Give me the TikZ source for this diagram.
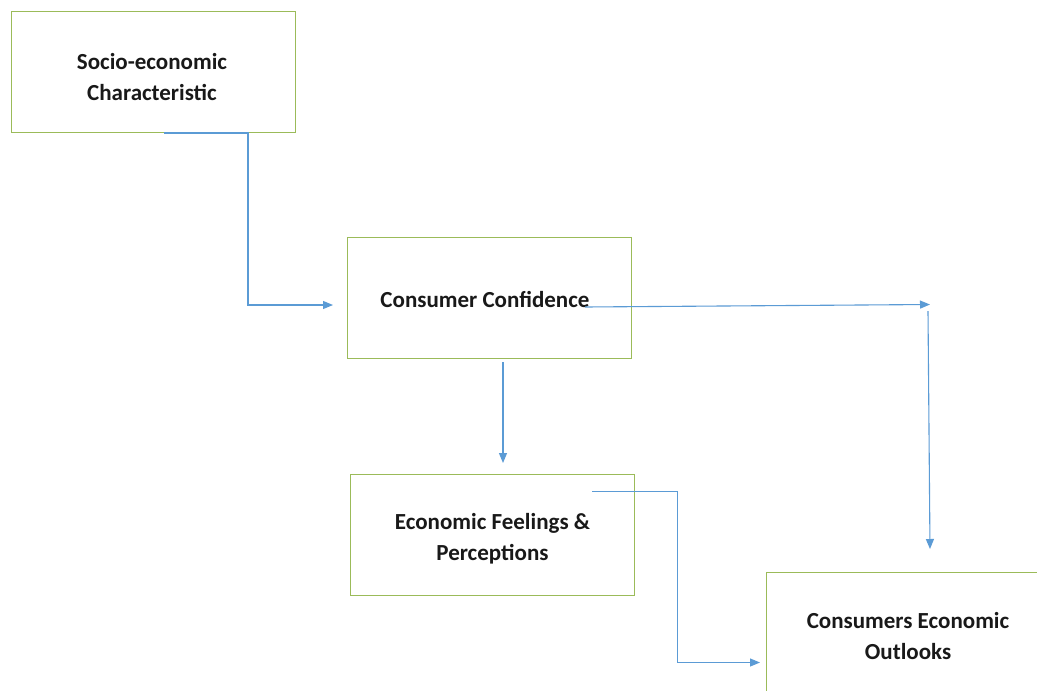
\documentclass[tikz,border=0pt]{standalone}
\usepackage{fontspec}
\setmainfont{Carlito}
\usetikzlibrary{arrows.meta,calc}
\definecolor{boxgreen}{HTML}{9BBB59}
\definecolor{lineblue}{HTML}{5B9BD5}
\tikzset{
  box/.style={draw=boxgreen, line width=0.9pt, minimum width=284pt, minimum height=121pt, inner sep=0pt},
  lbl/.style={inner sep=0pt, align=center, font=\fontsize{23}{31}\selectfont\bfseries, text=black!90},
  conn/.style={draw=lineblue, line width=1.1pt, -{Triangle[length=10pt,width=8pt]}}
}
\begin{document}
\begin{tikzpicture}[x=1pt,y=-1pt]
\clip (0,0) rectangle (1037,691);
\fill[white] (0,0) rectangle (1037,691);
\node[box] (se) at (153,72) {};
\node[box] (cc) at (489,297.5) {};
\node[box] (ef) at (492.5,534.5) {};
\node[box] (ce) at (908,632.5) {};
\node[lbl] (se-t) at ($(se.center)+(-1,5)$) {Socio-economic\\Characteristic};
\node[lbl] (cc-t) at ($(cc.center)+(-4,2)$) {Consumer Confidence};
\node[lbl] (ef-t) at ($(ef.center)+(0,4)$) {Economic Feelings \&\\Perceptions};
\node[lbl] (ce-t) at ($(ce.center)+(0,4)$) {Consumers Economic\\Outlooks};
\coordinate (a1s) at (164,133);
\coordinate (a1t) at (333,305);
\coordinate (a2s) at (585,307);
\coordinate (a2t) at (930,304.5);
\coordinate (a3s) at (928,311);
\coordinate (a3t) at (930,549);
\coordinate (a4s) at (503,362);
\coordinate (a4t) at (503,463);
\coordinate (a5s) at (592,491.5);
\coordinate (a5t) at (760,662.5);
\draw[conn] (a1s) -- (248,133) -- (248,305) -- (a1t);
\draw[conn] (a2s) -- (a2t);
\draw[conn] (a3s) -- (a3t);
\draw[conn] (a4s) -- (a4t);
\draw[conn] (a5s) -- (677.5,491.5) -- (677.5,662.5) -- (a5t);
\end{tikzpicture}
\end{document}
